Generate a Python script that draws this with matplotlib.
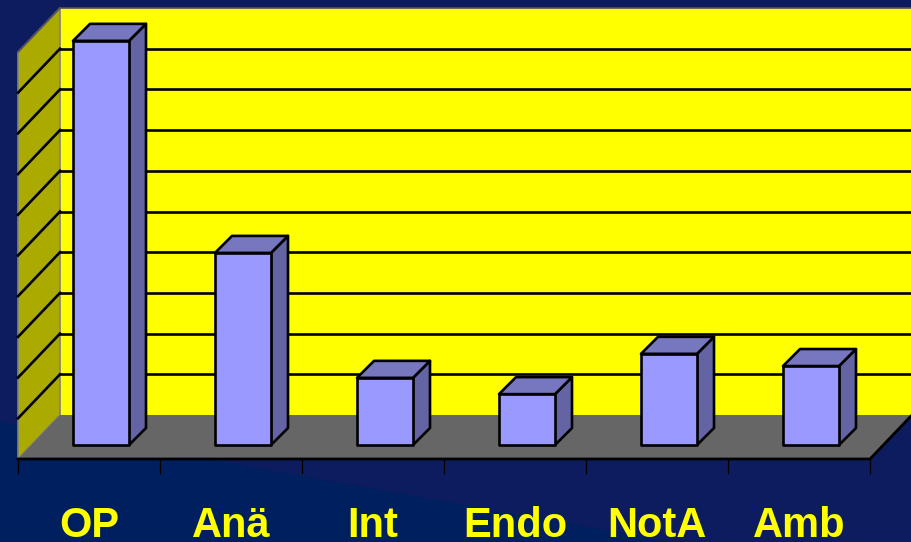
import matplotlib
matplotlib.use("Agg")
import matplotlib.pyplot as plt
from matplotlib.patches import Polygon

plt.rcParams['font.family'] = ['Liberation Sans', 'DejaVu Sans']

categories = ['OP', 'Anä', 'Int', 'Endo', 'NotA', 'Amb']
values = [9.93, 4.72, 1.65, 1.25, 2.24, 1.94]
grid_values = [1, 2, 3, 4, 5, 6, 7, 8, 9]

navy = '#0D1C5E'
navy2 = '#001F5F'
wall = '#FFFF00'
side_wall = '#AAAA00'
floor = '#666666'
front = '#9999FF'
top = '#7777C0'
side = '#6464A5'

fig = plt.figure(figsize=(9.12, 5.42), dpi=100)
fig.patch.set_facecolor(navy)
ax = fig.add_axes([0, 0, 1, 1])
ax.axis('off')

# one category = 142 px, one value unit = 40.7 px
px_x = 142
px_y = 40.7
ax.set_xlim(-18 / px_x, (912 - 18) / px_x)
ax.set_ylim(-(542 - 459) / px_y, 459 / px_y)

# depth of the fake 3d box
dx = 42 / px_x
dy = 44 / px_y
ymax = 10
n = len(categories)


def poly(pts, fc, ec='black', lw=1.9, z=2):
    ax.add_patch(Polygon(pts, closed=True, facecolor=fc, edgecolor=ec, linewidth=lw,
                         zorder=z, joinstyle='round'))


# background band
poly([(-18 / px_x, -83 / px_y), (-18 / px_x, 37 / px_y), (653 / px_x, -83 / px_y)],
     navy2, ec='none', lw=0, z=0)

# walls and floor
poly([(dx, dy), (n + dx, dy), (n + dx, ymax + dy), (dx, ymax + dy)], wall, ec='none', lw=0, z=1)
poly([(0, 0), (dx, dy), (dx, ymax + dy), (0, ymax)], side_wall, ec='#808080', lw=1.2, z=1)
poly([(0, 0), (n, 0), (n + dx, dy), (dx, dy)], floor, ec='none', lw=0, z=1)
ax.plot([0, dx, n + dx], [ymax, ymax + dy, ymax + dy], color='#505060', lw=1.2, zorder=2)
ax.plot([n + dx, n + dx], [dy, ymax + dy], color='#808080', lw=1.2, zorder=2)

for g in grid_values:
    ax.plot([dx, n + dx], [g + dy, g + dy], color='black', lw=1.9, zorder=2)
    ax.plot([0, dx], [g, g + dy], color='black', lw=1.9, zorder=2)

# floor front edge + ticks
ax.plot([0, n, n + dx], [0, 0, dy], color='black', lw=2, zorder=3)
for i in range(n + 1):
    ax.plot([i, i], [0, -14 / px_y], color='black', lw=0.9, zorder=3)

# bars
bar_w = 56 / px_x
off_x = 12 / px_x
off_y = 14 / px_y
depth_x = 17 / px_x
depth_y = 17 / px_y
for i, v in enumerate(values):
    x0 = i + 0.5 + off_x - bar_w / 2
    x1 = x0 + bar_w
    y0 = off_y
    y1 = off_y + v
    poly([(x1, y0), (x1 + depth_x, y0 + depth_y), (x1 + depth_x, y1 + depth_y), (x1, y1)], side, z=4)
    poly([(x0, y1), (x1, y1), (x1 + depth_x, y1 + depth_y), (x0 + depth_x, y1 + depth_y)], top, z=4)
    poly([(x0, y0), (x1, y0), (x1, y1), (x0, y1)], front, z=5)

for i, c in enumerate(categories):
    ax.text(i + 0.5, -78 / px_y, c, color='#FFFF00', fontsize=30, fontweight='bold',
            ha='center', va='baseline', zorder=6)

fig.savefig('out.png', dpi=100, facecolor=fig.get_facecolor())
